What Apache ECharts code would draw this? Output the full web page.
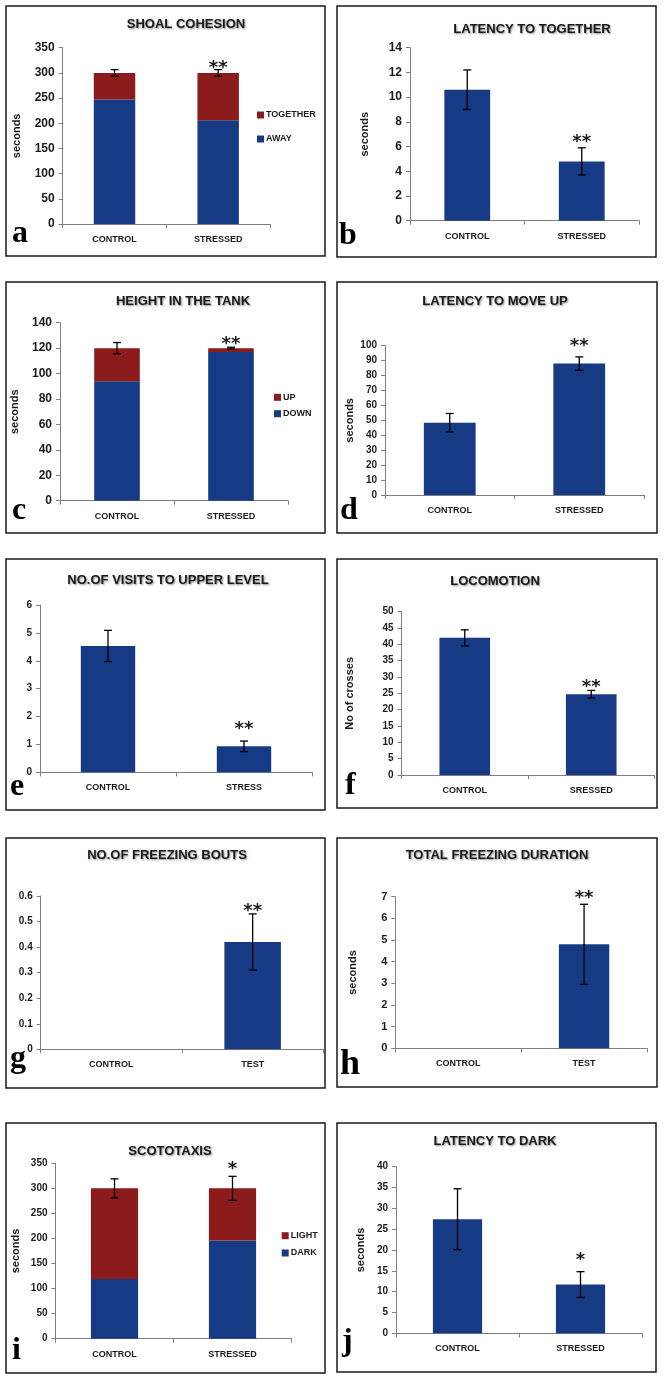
<!DOCTYPE html>
<html><head><meta charset="utf-8">
<script src="https://cdn.jsdelivr.net/npm/echarts@6/dist/echarts.min.js"></script>
<style>html,body{margin:0;padding:0;background:#fff}#c{width:664px;height:1377px}</style>
</head><body><div id="c"></div>
<script>
// ---------- data ----------
const catsStressed = ['CONTROL', 'STRESSED'];
const catsStress = ['CONTROL', 'STRESS'];
const catsSressed = ['CONTROL', 'SRESSED'];
const catsTest = ['CONTROL', 'TEST'];

const shoalAway = [247, 206];
const shoalTogether = [53, 94];
const shoalErr = [6.5, 6.5];
const shoalSig = ['', '**'];

const latTogether = [10.6, 4.8];
const latTogetherErr = [1.6, 1.1];
const latTogetherSig = ['', '**'];

const heightDown = [94, 117];
const heightUp = [26, 3];
const heightErr = [4.4, 0.7];
const heightSig = ['', '**'];

const latMoveUp = [48.4, 88];
const latMoveUpErr = [6.2, 4.5];
const latMoveUpSig = ['', '**'];

const visitsUpper = [4.53, 0.93];
const visitsUpperErr = [0.56, 0.19];
const visitsUpperSig = ['', '**'];

const locomotion = [42.0, 24.7];
const locomotionErr = [2.45, 1.2];
const locomotionSig = ['', '**'];

const freezeBouts = [0, 0.42];
const freezeBoutsErr = [0, 0.11];
const freezeBoutsSig = ['', '**'];

const freezeDur = [0, 4.8];
const freezeDurErr = [0, 1.85];
const freezeDurSig = ['', '**'];

const scotoDark = [119, 196];
const scotoLight = [181, 104];
const scotoErr = [19, 24];
const scotoSig = ['', '*'];

const latDark = [27.4, 11.7];
const latDarkErr = [7.3, 3.1];
const latDarkSig = ['', '*'];

// ---------- styles / layout ----------
const BLUE = '#173a84', RED = '#8c1b1b';
const FONT = 'Liberation Sans, Arial, sans-serif';

const panels = [
  {letter: 'a', title: 'SHOAL COHESION', cats: catsStressed,
   stacks: [['AWAY', shoalAway, BLUE], ['TOGETHER', shoalTogether, RED]], err: shoalErr, sig: shoalSig,
   yMax: 350, yInt: 50, yName: 'seconds', nameGap: 40, tickFont: 12,
   box: [6, 6, 319, 250], grid: [62.7, 47.7, 207.3, 176.3], titleXY: [186, 26], letterXY: [12, 250], letterSize: 32,
   legend: {data: ['TOGETHER', 'AWAY'], left: 257, top: 110.5, gap: 15}, sigGap: 6},
  {letter: 'b', title: 'LATENCY TO TOGETHER', cats: catsStressed,
   stacks: [['b', latTogether, BLUE]], err: latTogetherErr, sig: latTogetherSig,
   yMax: 14, yInt: 2, yName: 'seconds', nameGap: 40, tickFont: 12,
   box: [337, 6, 319, 251], grid: [410, 47.7, 229, 173], titleXY: [532, 31], letterXY: [339, 251.7], letterSize: 32, sigGap: 10},
  {letter: 'c', title: 'HEIGHT IN THE TANK', cats: catsStressed,
   stacks: [['DOWN', heightDown, BLUE], ['UP', heightUp, RED]], err: heightErr, sig: heightSig,
   yMax: 140, yInt: 20, yName: 'seconds', nameGap: 40, tickFont: 12,
   box: [6, 282, 319, 251], grid: [60, 322.7, 228, 178], titleXY: [183, 303], letterXY: [12, 526.7], letterSize: 32,
   legend: {data: ['UP', 'DOWN'], left: 274, top: 392.8, gap: 7.4}, sigGap: 7},
  {letter: 'd', title: 'LATENCY TO MOVE UP', cats: catsStressed,
   stacks: [['d', latMoveUp, BLUE]], err: latMoveUpErr, sig: latMoveUpSig,
   yMax: 100, yInt: 10, yName: 'seconds', nameGap: 30, tickFont: 10,
   box: [337, 282, 320, 251], grid: [385, 345.7, 259, 149.3], titleXY: [495, 303], letterXY: [340, 526.7], letterSize: 32, sigGap: 15},
  {letter: 'e', title: 'NO.OF VISITS TO UPPER LEVEL', cats: catsStress,
   stacks: [['e', visitsUpper, BLUE]], err: visitsUpperErr, sig: visitsUpperSig,
   yMax: 6, yInt: 1, yName: '', nameGap: 30, tickFont: 10,
   box: [6, 559, 319, 251], grid: [40, 605, 272, 167.3], titleXY: [168, 582], letterXY: [10, 803], letterSize: 32, sigGap: 16},
  {letter: 'f', title: 'LOCOMOTION', cats: catsSressed,
   stacks: [['f', locomotion, BLUE]], err: locomotionErr, sig: locomotionSig,
   yMax: 50, yInt: 5, yName: 'No of crosses', nameGap: 46, tickFont: 10,
   box: [337, 559, 320, 249], grid: [401.5, 611.7, 253, 163.3], titleXY: [495, 583], letterXY: [345, 801.7], letterSize: 32, sigGap: 8},
  {letter: 'g', title: 'NO.OF FREEZING BOUTS', cats: catsTest,
   stacks: [['g', freezeBouts, BLUE]], err: freezeBoutsErr, sig: freezeBoutsSig,
   yMax: 0.6, yInt: 0.1, yName: '', nameGap: 30, tickFont: 10,
   box: [6, 838, 319, 250], grid: [40.7, 896, 282.6, 153.3], titleXY: [167, 857], letterXY: [10, 1075], letterSize: 32, sigGap: 7},
  {letter: 'h', title: 'TOTAL FREEZING DURATION', cats: catsTest,
   stacks: [['h', freezeDur, BLUE]], err: freezeDurErr, sig: freezeDurSig,
   yMax: 7, yInt: 1, yName: 'seconds', nameGap: 37, tickFont: 11,
   box: [337, 838, 320, 249], grid: [395.3, 896.7, 251.7, 151.6], titleXY: [497, 857], letterXY: [340, 1083], letterSize: 36, sigGap: 10},
  {letter: 'i', title: 'SCOTOTAXIS', cats: catsStressed,
   stacks: [['DARK', scotoDark, BLUE], ['LIGHT', scotoLight, RED]], err: scotoErr, sig: scotoSig,
   yMax: 350, yInt: 50, yName: 'seconds', nameGap: 34, tickFont: 10,
   box: [6, 1123, 319, 250], grid: [55.5, 1163.3, 236, 175.4], titleXY: [170, 1153], letterXY: [12, 1366.7], letterSize: 32,
   legend: {data: ['LIGHT', 'DARK'], left: 281.7, top: 1231.2, gap: 8.3}, sigGap: 12},
  {letter: 'j', title: 'LATENCY TO DARK', cats: catsStressed,
   stacks: [['j', latDark, BLUE]], err: latDarkErr, sig: latDarkSig,
   yMax: 40, yInt: 5, yName: 'seconds', nameGap: 30, tickFont: 10,
   box: [337, 1123, 319, 249], grid: [396, 1166.7, 246, 166.6], titleXY: [495, 1143], letterXY: [342, 1358], letterSize: 32, sigGap: 16}
];

// ---------- build option ----------
const option = {
  animation: false,
  backgroundColor: '#fff',
  title: [], grid: [], xAxis: [], yAxis: [], series: [], legend: [], graphic: []
};
const axisColor = '#7f7f7f';

panels.forEach((p, i) => {
  option.grid.push({left: p.grid[0], top: p.grid[1], width: p.grid[2], height: p.grid[3], containLabel: false});
  option.title.push({
    text: p.title, left: p.titleXY[0], top: p.titleXY[1] - 8, textAlign: 'center', padding: 0,
    textStyle: {fontFamily: FONT, fontWeight: 'bold', fontSize: 13, color: '#1a1a1a',
      textShadowColor: 'rgba(0,0,0,0.45)', textShadowBlur: 2, textShadowOffsetX: 1, textShadowOffsetY: 1}
  });
  option.xAxis.push({
    type: 'category', gridIndex: i, data: p.cats,
    axisLine: {lineStyle: {color: axisColor, width: 1}},
    axisTick: {show: true, length: 4, alignWithLabel: false, lineStyle: {color: axisColor}},
    axisLabel: {interval: 0, margin: 11, fontFamily: FONT, fontWeight: 'bold', fontSize: 9, color: '#1a1a1a'},
    splitLine: {show: false}
  });
  option.yAxis.push({
    type: 'value', gridIndex: i, min: 0, max: p.yMax, interval: p.yInt,
    name: p.yName, nameLocation: 'middle', nameRotate: 90, nameGap: p.nameGap,
    nameTextStyle: {fontFamily: FONT, fontWeight: 'bold', fontSize: 11, color: '#1a1a1a'},
    axisLine: {show: true, lineStyle: {color: axisColor, width: 1}},
    axisTick: {show: true, length: 4, lineStyle: {color: axisColor}},
    axisLabel: {margin: 8, fontFamily: FONT, fontWeight: 'bold', fontSize: p.tickFont, color: '#1a1a1a'},
    splitLine: {show: false}
  });
  const stacked = p.stacks.length > 1;
  p.stacks.forEach(([name, vals, color]) => {
    option.series.push({
      type: 'bar', name: name, xAxisIndex: i, yAxisIndex: i,
      stack: stacked ? 'st' + i : undefined, barWidth: '40%',
      data: vals, itemStyle: {color: color}, silent: true
    });
  });
  const totals = p.cats.map((c, k) => p.stacks.reduce((s, st) => s + st[1][k], 0));
  const sigArr = p.sig, gap = p.sigGap;
  option.series.push({
    type: 'custom', xAxisIndex: i, yAxisIndex: i, silent: true, z: 10,
    data: p.cats.map((c, k) => [k, totals[k], p.err[k]]),
    encode: {x: 0, y: 1},
    renderItem: function (params, api) {
      const x = api.value(0), v = api.value(1), e = api.value(2);
      const top = api.coord([x, v + e]), bot = api.coord([x, v - e]);
      const ch = [];
      const ls = {stroke: '#000', lineWidth: 1.3};
      if (e > 0) {
        ch.push({type: 'line', shape: {x1: top[0], y1: top[1], x2: bot[0], y2: bot[1]}, style: ls});
        ch.push({type: 'line', shape: {x1: top[0] - 4, y1: top[1], x2: top[0] + 4, y2: top[1]}, style: ls});
        ch.push({type: 'line', shape: {x1: bot[0] - 4, y1: bot[1], x2: bot[0] + 4, y2: bot[1]}, style: ls});
      }
      const s = sigArr[params.dataIndex];
      if (s) {
        ch.push({type: 'text', style: {text: s, x: top[0], y: top[1] - gap + 4.5, align: 'center', verticalAlign: 'middle',
          font: 'bold 18px "DejaVu Sans", sans-serif', fill: '#1a1a1a'}});
      }
      return {type: 'group', children: ch};
    }
  });
  if (p.legend) {
    option.legend.push({
      data: p.legend.data, orient: 'vertical', left: p.legend.left, top: p.legend.top, padding: 0,
      itemGap: p.legend.gap, itemWidth: 7, itemHeight: 7, icon: 'rect', selectedMode: false,
      textStyle: {fontFamily: FONT, fontWeight: 'bold', fontSize: 9, color: '#1a1a1a', padding: [0, 0, 0, -3]}
    });
  }
  option.graphic.push({
    type: 'rect', silent: true, z: 100,
    shape: {x: p.box[0], y: p.box[1], width: p.box[2], height: p.box[3]},
    style: {fill: 'none', stroke: '#1a1a1a', lineWidth: 1.5}
  });
  option.graphic.push({
    type: 'text', silent: true, z: 100, x: p.letterXY[0], y: p.letterXY[1],
    style: {text: p.letter, font: 'bold ' + p.letterSize + 'px "Liberation Serif", "Times New Roman", serif',
      fill: '#000', align: 'left', verticalAlign: 'bottom'}
  });
});

const chart = echarts.init(document.getElementById('c'), null, {renderer: 'canvas'});
chart.setOption(option);
</script>
</body></html>
